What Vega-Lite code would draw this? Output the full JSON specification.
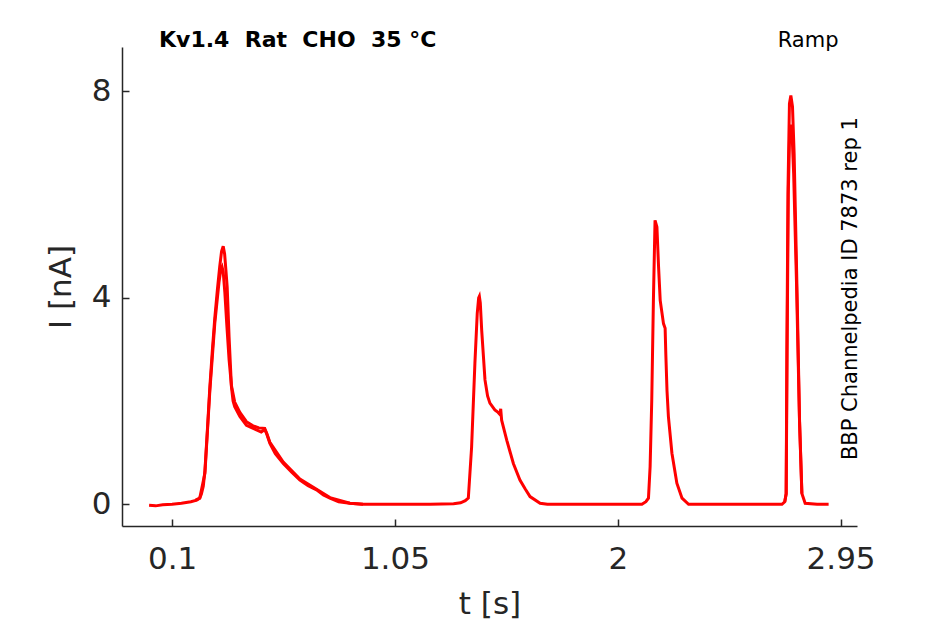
{
  "$schema": "https://vega.github.io/schema/vega-lite/v6.json",
  "autosize": "none",
  "width": 735,
  "height": 479,
  "padding": {"left": 122, "top": 47, "right": 88, "bottom": 98},
  "background": "white",
  "config": {
    "view": {"stroke": null},
    "axis": {
      "grid": false,
      "domainColor": "#262626",
      "domainWidth": 1.5,
      "tickColor": "#262626",
      "tickWidth": 1.5,
      "tickSize": -7,
      "labelFont": "DejaVu Sans",
      "labelFontSize": 31,
      "labelColor": "#262626",
      "titleFont": "DejaVu Sans",
      "titleFontSize": 31,
      "titleFontWeight": "normal",
      "titleColor": "#262626"
    }
  },
  "datasets": {
    "trace": [
      {"sweep": 1, "t": 0.002, "I": -0.02},
      {"sweep": 1, "t": 0.03, "I": -0.03},
      {"sweep": 1, "t": 0.06, "I": -0.01},
      {"sweep": 1, "t": 0.1, "I": 0.0},
      {"sweep": 1, "t": 0.14, "I": 0.02},
      {"sweep": 1, "t": 0.18, "I": 0.05},
      {"sweep": 1, "t": 0.205, "I": 0.08},
      {"sweep": 1, "t": 0.218, "I": 0.12},
      {"sweep": 1, "t": 0.225, "I": 0.2},
      {"sweep": 1, "t": 0.233, "I": 0.35},
      {"sweep": 1, "t": 0.24, "I": 0.65},
      {"sweep": 1, "t": 0.25, "I": 1.4},
      {"sweep": 1, "t": 0.261, "I": 2.27},
      {"sweep": 1, "t": 0.272, "I": 3.0},
      {"sweep": 1, "t": 0.282, "I": 3.6},
      {"sweep": 1, "t": 0.293, "I": 4.15},
      {"sweep": 1, "t": 0.303, "I": 4.6},
      {"sweep": 1, "t": 0.311, "I": 4.9},
      {"sweep": 1, "t": 0.318, "I": 5.0},
      {"sweep": 1, "t": 0.324, "I": 4.85},
      {"sweep": 1, "t": 0.33, "I": 4.5},
      {"sweep": 1, "t": 0.335, "I": 4.2},
      {"sweep": 1, "t": 0.343, "I": 3.24},
      {"sweep": 1, "t": 0.353, "I": 2.28},
      {"sweep": 1, "t": 0.36, "I": 2.0},
      {"sweep": 1, "t": 0.367, "I": 1.89},
      {"sweep": 1, "t": 0.389, "I": 1.7},
      {"sweep": 1, "t": 0.417, "I": 1.53},
      {"sweep": 1, "t": 0.46, "I": 1.44},
      {"sweep": 1, "t": 0.48, "I": 1.4},
      {"sweep": 1, "t": 0.495, "I": 1.45},
      {"sweep": 1, "t": 0.503, "I": 1.37},
      {"sweep": 1, "t": 0.517, "I": 1.18},
      {"sweep": 1, "t": 0.54, "I": 0.98},
      {"sweep": 1, "t": 0.574, "I": 0.79},
      {"sweep": 1, "t": 0.61, "I": 0.62},
      {"sweep": 1, "t": 0.645, "I": 0.47},
      {"sweep": 1, "t": 0.68, "I": 0.36},
      {"sweep": 1, "t": 0.716, "I": 0.28},
      {"sweep": 1, "t": 0.745, "I": 0.18},
      {"sweep": 1, "t": 0.773, "I": 0.12},
      {"sweep": 1, "t": 0.81, "I": 0.05},
      {"sweep": 1, "t": 0.858, "I": 0.02},
      {"sweep": 1, "t": 0.914, "I": 0.0},
      {"sweep": 1, "t": 1.0, "I": 0.0},
      {"sweep": 1, "t": 1.1, "I": 0.0},
      {"sweep": 1, "t": 1.2, "I": 0.0},
      {"sweep": 1, "t": 1.3, "I": 0.01},
      {"sweep": 1, "t": 1.33, "I": 0.03},
      {"sweep": 1, "t": 1.35, "I": 0.07},
      {"sweep": 1, "t": 1.363, "I": 0.12},
      {"sweep": 1, "t": 1.377, "I": 1.11},
      {"sweep": 1, "t": 1.391, "I": 2.73},
      {"sweep": 1, "t": 1.401, "I": 3.7},
      {"sweep": 1, "t": 1.407, "I": 4.0},
      {"sweep": 1, "t": 1.41, "I": 4.03},
      {"sweep": 1, "t": 1.414, "I": 3.9},
      {"sweep": 1, "t": 1.42, "I": 3.37},
      {"sweep": 1, "t": 1.434, "I": 2.41},
      {"sweep": 1, "t": 1.445, "I": 2.1},
      {"sweep": 1, "t": 1.455, "I": 1.96},
      {"sweep": 1, "t": 1.476, "I": 1.83},
      {"sweep": 1, "t": 1.49, "I": 1.78},
      {"sweep": 1, "t": 1.498, "I": 1.74},
      {"sweep": 1, "t": 1.501, "I": 1.85},
      {"sweep": 1, "t": 1.505, "I": 1.63},
      {"sweep": 1, "t": 1.527, "I": 1.24},
      {"sweep": 1, "t": 1.555, "I": 0.79},
      {"sweep": 1, "t": 1.583, "I": 0.47},
      {"sweep": 1, "t": 1.605, "I": 0.3},
      {"sweep": 1, "t": 1.626, "I": 0.15},
      {"sweep": 1, "t": 1.669, "I": 0.02},
      {"sweep": 1, "t": 1.7, "I": 0.0},
      {"sweep": 1, "t": 1.8, "I": 0.0},
      {"sweep": 1, "t": 1.9, "I": 0.0},
      {"sweep": 1, "t": 2.0, "I": 0.0},
      {"sweep": 1, "t": 2.103, "I": 0.0},
      {"sweep": 1, "t": 2.12, "I": 0.05},
      {"sweep": 1, "t": 2.131, "I": 0.12},
      {"sweep": 1, "t": 2.138, "I": 0.73},
      {"sweep": 1, "t": 2.145, "I": 2.02},
      {"sweep": 1, "t": 2.152, "I": 3.95},
      {"sweep": 1, "t": 2.159, "I": 5.5},
      {"sweep": 1, "t": 2.167, "I": 5.37},
      {"sweep": 1, "t": 2.174, "I": 4.6},
      {"sweep": 1, "t": 2.181, "I": 3.95},
      {"sweep": 1, "t": 2.195, "I": 3.5},
      {"sweep": 1, "t": 2.202, "I": 3.41},
      {"sweep": 1, "t": 2.205, "I": 2.9},
      {"sweep": 1, "t": 2.21, "I": 2.2},
      {"sweep": 1, "t": 2.216, "I": 1.7},
      {"sweep": 1, "t": 2.231, "I": 0.99},
      {"sweep": 1, "t": 2.252, "I": 0.41},
      {"sweep": 1, "t": 2.274, "I": 0.12},
      {"sweep": 1, "t": 2.302, "I": 0.0},
      {"sweep": 1, "t": 2.4, "I": 0.0},
      {"sweep": 1, "t": 2.5, "I": 0.0},
      {"sweep": 1, "t": 2.6, "I": 0.0},
      {"sweep": 1, "t": 2.7, "I": 0.0},
      {"sweep": 1, "t": 2.712, "I": 0.05},
      {"sweep": 1, "t": 2.718, "I": 0.21},
      {"sweep": 1, "t": 2.721, "I": 2.93},
      {"sweep": 1, "t": 2.726, "I": 6.15},
      {"sweep": 1, "t": 2.732, "I": 7.76},
      {"sweep": 1, "t": 2.738, "I": 7.92},
      {"sweep": 1, "t": 2.745, "I": 7.7},
      {"sweep": 1, "t": 2.752, "I": 6.79},
      {"sweep": 1, "t": 2.764, "I": 4.21},
      {"sweep": 1, "t": 2.775, "I": 1.63},
      {"sweep": 1, "t": 2.785, "I": 0.21},
      {"sweep": 1, "t": 2.799, "I": 0.02},
      {"sweep": 1, "t": 2.85, "I": 0.0},
      {"sweep": 1, "t": 2.899, "I": 0.0},
      {"sweep": 2, "t": 0.2, "I": 0.08},
      {"sweep": 2, "t": 0.218, "I": 0.12},
      {"sweep": 2, "t": 0.24, "I": 0.6},
      {"sweep": 2, "t": 0.261, "I": 2.2},
      {"sweep": 2, "t": 0.282, "I": 3.5},
      {"sweep": 2, "t": 0.3, "I": 4.3},
      {"sweep": 2, "t": 0.308, "I": 4.55},
      {"sweep": 2, "t": 0.313, "I": 4.6},
      {"sweep": 2, "t": 0.318, "I": 4.5},
      {"sweep": 2, "t": 0.325, "I": 4.1},
      {"sweep": 2, "t": 0.333, "I": 3.5},
      {"sweep": 2, "t": 0.343, "I": 2.8},
      {"sweep": 2, "t": 0.353, "I": 2.3},
      {"sweep": 2, "t": 0.367, "I": 1.98},
      {"sweep": 2, "t": 0.389, "I": 1.78},
      {"sweep": 2, "t": 0.417, "I": 1.6},
      {"sweep": 2, "t": 0.445, "I": 1.52},
      {"sweep": 2, "t": 0.47, "I": 1.48},
      {"sweep": 2, "t": 0.495, "I": 1.47},
      {"sweep": 2, "t": 0.503, "I": 1.38},
      {"sweep": 2, "t": 0.517, "I": 1.2},
      {"sweep": 2, "t": 0.574, "I": 0.82},
      {"sweep": 2, "t": 0.645, "I": 0.49},
      {"sweep": 2, "t": 0.716, "I": 0.29},
      {"sweep": 2, "t": 0.773, "I": 0.13},
      {"sweep": 2, "t": 0.858, "I": 0.02},
      {"sweep": 2, "t": 0.914, "I": 0.0},
      {"sweep": 3, "t": 2.712, "I": 0.05},
      {"sweep": 3, "t": 2.718, "I": 0.2},
      {"sweep": 3, "t": 2.722, "I": 3.0},
      {"sweep": 3, "t": 2.727, "I": 6.0},
      {"sweep": 3, "t": 2.733, "I": 7.2},
      {"sweep": 3, "t": 2.738, "I": 7.35},
      {"sweep": 3, "t": 2.743, "I": 7.2},
      {"sweep": 3, "t": 2.75, "I": 6.4},
      {"sweep": 3, "t": 2.762, "I": 4.3},
      {"sweep": 3, "t": 2.775, "I": 1.6},
      {"sweep": 3, "t": 2.785, "I": 0.21}
    ]
  },
  "layer": [
    {
      "data": {"name": "trace"},
      "mark": {"type": "line", "color": "#ff0000", "strokeWidth": 3, "clip": true},
      "encoding": {
        "x": {
          "field": "t",
          "type": "quantitative",
          "scale": {"domain": [-0.1135, 3.02], "nice": false, "zero": false},
          "axis": {"values": [0.1, 1.05, 2, 2.95], "labelExpr": "datum.value + ''", "title": "t [s]", "labelPadding": 25, "titlePadding": 15}
        },
        "y": {
          "field": "I",
          "type": "quantitative",
          "scale": {"domain": [-0.42, 8.857], "nice": false, "zero": false},
          "axis": {"values": [0, 4, 8], "title": "I [nA]", "labelPadding": 18, "titlePadding": 14}
        },
        "detail": {"field": "sweep"}
      }
    },
    {
      "data": {"values": [{}]},
      "mark": {"type": "text", "text": "Kv1.4\u00a0\u00a0Rat\u00a0\u00a0CHO\u00a0\u00a035 °C", "font": "DejaVu Sans", "fontSize": 22, "fontWeight": "bold", "color": "black", "align": "left", "baseline": "alphabetic"},
      "encoding": {"x": {"datum": 0.0445}, "y": {"datum": 8.857}}
    },
    {
      "data": {"values": [{}]},
      "mark": {"type": "text", "text": "Ramp", "font": "DejaVu Sans", "fontSize": 21, "color": "black", "align": "right", "baseline": "alphabetic"},
      "encoding": {"x": {"datum": 2.941}, "y": {"datum": 8.857}}
    },
    {
      "data": {"values": [{}]},
      "mark": {"type": "text", "text": "BBP Channelpedia ID 7873 rep 1", "font": "DejaVu Sans", "fontSize": 21, "color": "black", "align": "center", "baseline": "middle", "angle": 270},
      "encoding": {"x": {"datum": 2.9956}, "y": {"datum": 4.177}}
    }
  ]
}
